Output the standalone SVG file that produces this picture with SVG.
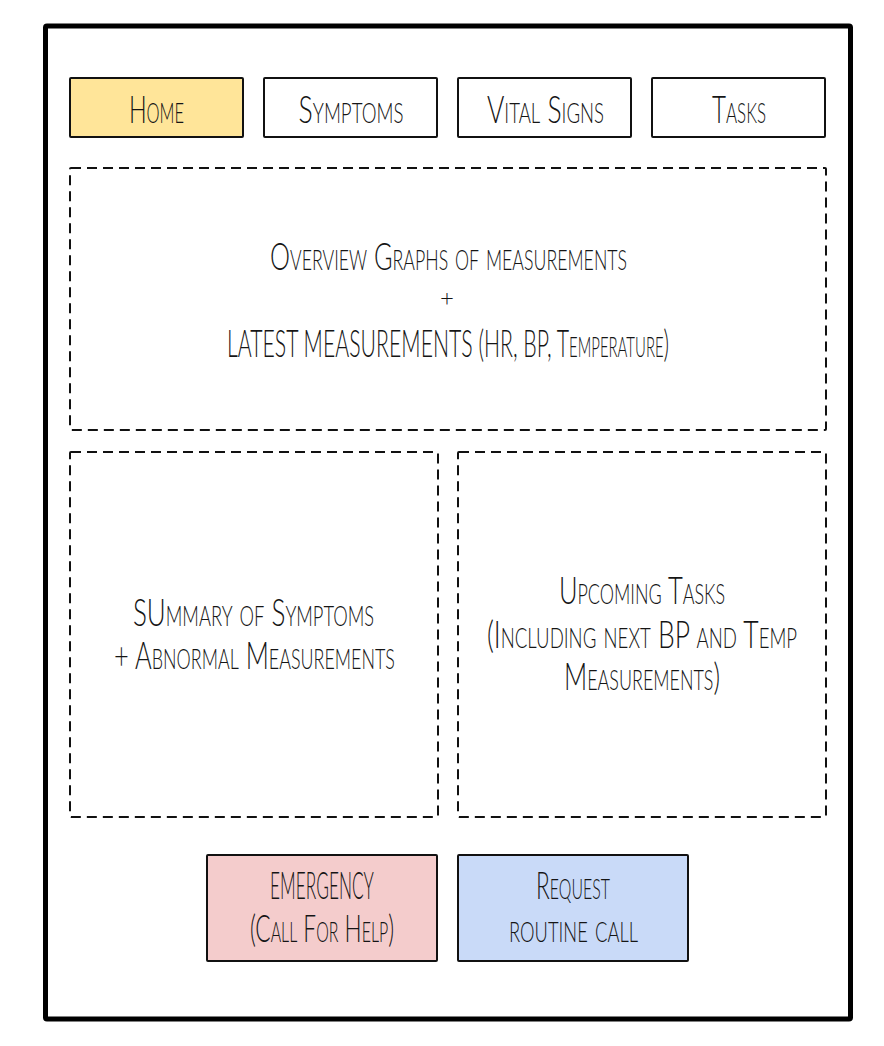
<svg xmlns="http://www.w3.org/2000/svg" width="884" height="1046" viewBox="0 0 884 1046">
  <style>
    .frame { fill: #ffffff; stroke: #000000; stroke-width: 5; }
    .tab { fill: #ffffff; stroke: #111111; stroke-width: 2; }
    .tab.active { fill: #ffe599; }
    .panel { fill: none; stroke: #111111; stroke-width: 2; stroke-dasharray: 10 6; }
    .btn { stroke: #111111; stroke-width: 2; }
    .emergency { fill: #f4cccc; }
    .routine { fill: #c9daf8; }
    text { font-family: Lato, "Open Sans", "DejaVu Sans Condensed", sans-serif; font-weight: 300; font-size: 38px; font-variant: small-caps; fill: #151515; text-anchor: middle; }
  </style>

  <rect width="884" height="1046" fill="#ffffff"/>

  <!-- device frame -->
  <g id="frame">
    <rect class="frame" x="45.5" y="26" width="805" height="993" rx="1.5"/>
  </g>

  <!-- navigation tabs (labels are narrowed horizontally by 0.6) -->
  <g id="tab-home">
    <rect class="tab active" x="70" y="78" width="173" height="59" rx="1"/>
    <text transform="translate(156.5 123) scale(0.6 1)" textLength="92" lengthAdjust="spacingAndGlyphs">Home</text>
  </g>
  <g id="tab-symptoms">
    <rect class="tab" x="264" y="78" width="173" height="59" rx="1"/>
    <text transform="translate(351 123) scale(0.6 1)" textLength="175" lengthAdjust="spacingAndGlyphs">Symptoms</text>
  </g>
  <g id="tab-vitals">
    <rect class="tab" x="458" y="78" width="173" height="59" rx="1"/>
    <text transform="translate(545.5 123) scale(0.6 1)" textLength="195" lengthAdjust="spacingAndGlyphs">Vital Signs</text>
  </g>
  <g id="tab-tasks">
    <rect class="tab" x="652" y="78" width="173" height="59" rx="1"/>
    <text transform="translate(739 123) scale(0.6 1)" textLength="90" lengthAdjust="spacingAndGlyphs">Tasks</text>
  </g>

  <!-- overview panel -->
  <g id="panel-overview">
    <rect class="panel" x="70" y="168" width="756" height="262" rx="1"/>
    <text transform="translate(448.5 270) scale(0.6 1)" textLength="595" lengthAdjust="spacingAndGlyphs">Overview Graphs of measurements</text>
    <text x="447" y="306" style="font-size:24px">+</text>
    <text transform="translate(448 357) scale(0.6 1)" textLength="737" lengthAdjust="spacingAndGlyphs">LATEST MEASUREMENTS (HR, BP, Temperature)</text>
  </g>

  <!-- symptoms summary panel -->
  <g id="panel-summary">
    <rect class="panel" x="70" y="452" width="368" height="365" rx="1"/>
    <text transform="translate(253.5 626) scale(0.6 1)" textLength="402" lengthAdjust="spacingAndGlyphs">SUmmary of Symptoms</text>
    <text transform="translate(254.5 669) scale(0.6 1)" textLength="468" lengthAdjust="spacingAndGlyphs">+ Abnormal Measurements</text>
  </g>

  <!-- upcoming tasks panel -->
  <g id="panel-tasks">
    <rect class="panel" x="458" y="452" width="368" height="365" rx="1"/>
    <text transform="translate(642 604) scale(0.6 1)" textLength="277" lengthAdjust="spacingAndGlyphs">Upcoming Tasks</text>
    <text transform="translate(642 648) scale(0.6 1)" textLength="517" lengthAdjust="spacingAndGlyphs">(Including next BP and Temp</text>
    <text transform="translate(642 690) scale(0.6 1)" textLength="260" lengthAdjust="spacingAndGlyphs">Measurements)</text>
  </g>

  <!-- call buttons -->
  <g id="btn-emergency">
    <rect class="btn emergency" x="207" y="855" width="230" height="106" rx="1"/>
    <text transform="translate(322 899) scale(0.6 1)" textLength="173" lengthAdjust="spacingAndGlyphs">EMERGENCY</text>
    <text transform="translate(322 942) scale(0.6 1)" textLength="240" lengthAdjust="spacingAndGlyphs">(Call For Help)</text>
  </g>
  <g id="btn-routine">
    <rect class="btn routine" x="458" y="855" width="230" height="106" rx="1"/>
    <text transform="translate(573 899) scale(0.6 1)" textLength="123" lengthAdjust="spacingAndGlyphs">Request</text>
    <text transform="translate(573.5 942) scale(0.6 1)" textLength="215" lengthAdjust="spacingAndGlyphs">routine call</text>
  </g>

  <!-- no connectors in this layout -->
  <g id="connectors"/>
</svg>
